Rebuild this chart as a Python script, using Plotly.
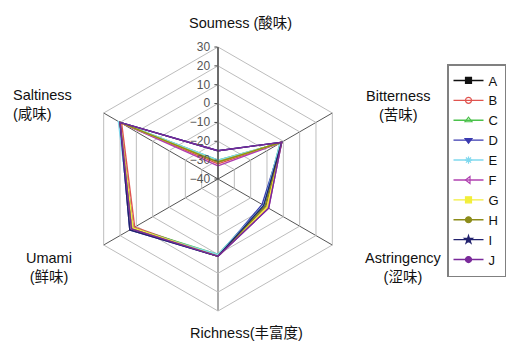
import plotly.graph_objects as go

# Taste attributes (clockwise from top)
attributes = ["Soumess", "Bitterness", "Astringency", "Richness", "Umami", "Saltiness"]

# Sensor responses per sample
series_names = ["A", "B", "C", "D", "E", "F", "G", "H", "I", "J"]
A = [-31, -1, -11, 1, 12, 20]
B = [-32, -1, -10, 1, 11, 19]
C = [-30, -2, -12, 0, 12, 20]
D = [-25, -1, -13, 1, 14, 20]
E = [-30, -2, -12, 0, 13, 21]
F = [-33, -1, -9, 1, 12, 20]
G = [-31, -1, -10, 1, 12, 20]
H = [-31, -1, -11, 1, 13, 20]
I = [-25, -1, -12, 1, 14, 20]
J = [-25, -1, -9, 1, 13, 20]
values = [A, B, C, D, E, F, G, H, I, J]

radial_ticks = [-40, -30, -20, -10, 0, 10, 20, 30]

colors = ["#111111", "#e0544f", "#4cc24c", "#3a3ab0", "#7fd8ee",
          "#b040b0", "#f2ee3a", "#8c8c1a", "#22226e", "#7a2a9a"]
symbols = ["square", "circle-open", "triangle-up-open", "triangle-down",
           "asterisk-open", "triangle-left-open", "square", "circle-x",
           "star", "circle"]

fig = go.Figure()
for name, vals, col, sym in zip(series_names, values, colors, symbols):
    fig.add_trace(go.Scatterpolar(
        r=vals + vals[:1],
        theta=attributes + attributes[:1],
        mode="lines+markers",
        name=name,
        line=dict(color=col, width=1.4),
        marker=dict(symbol=sym, size=6, color=col, line=dict(color=col, width=1.2)),
    ))

cx, cy, R = 218, 179, 132
W, Hh = 516, 344

fig.update_layout(
    width=W, height=Hh,
    margin=dict(l=0, r=0, t=0, b=0),
    paper_bgcolor="white",
    plot_bgcolor="white",
    font=dict(family="Liberation Sans, Arial, Noto Sans CJK SC", color="#222"),
    polar=dict(
        domain=dict(x=[(cx - R) / W, (cx + R) / W],
                    y=[(Hh - cy - R) / Hh, (Hh - cy + R) / Hh]),
        gridshape="linear",
        bgcolor="white",
        radialaxis=dict(
            range=[-40, 30],
            tickvals=radial_ticks,
            angle=90,
            tickangle=90,
            side="counterclockwise",
            showline=True,
            linecolor="#444",
            linewidth=1.2,
            gridcolor="#bdbdbd",
            gridwidth=1,
            ticks="outside",
            ticklen=3,
            tickcolor="#444",
            tickfont=dict(size=12, color="#555"),
        ),
        angularaxis=dict(
            rotation=90,
            direction="clockwise",
            showticklabels=False,
            ticks="",
            gridcolor="#555",
            gridwidth=1.2,
            linecolor="#bdbdbd",
            linewidth=1,
        ),
    ),
    legend=dict(
        x=447 / W, y=1 - 64 / Hh,
        xanchor="left", yanchor="top",
        bordercolor="#808080", borderwidth=1.5,
        bgcolor="white",
        font=dict(size=13, color="#111"),
        tracegroupgap=0,
    ),
    showlegend=True,
)

label_font = dict(size=14.5, color="#111", family="Liberation Sans, Arial, Noto Sans CJK SC")
labels = [
    ("Soumess (酸味)", 240, 23, "center"),
    ("Bitterness<br>(苦味)", 398, 105, "center"),
    ("Astringency<br>(涩味)", 403, 267, "center"),
    ("Richness(丰富度)", 246, 332, "center"),
    ("Umami<br>(鲜味)", 49, 267, "center"),
    ("Saltiness<br>(咸味)", 11, 104, "left"),
]
for text, x, y, anchor in labels:
    fig.add_annotation(text=text, x=x / W, y=1 - y / Hh, xref="paper", yref="paper",
                       showarrow=False, xanchor=anchor, yanchor="middle",
                       font=label_font, align=anchor)

fig.write_html("out.html")
